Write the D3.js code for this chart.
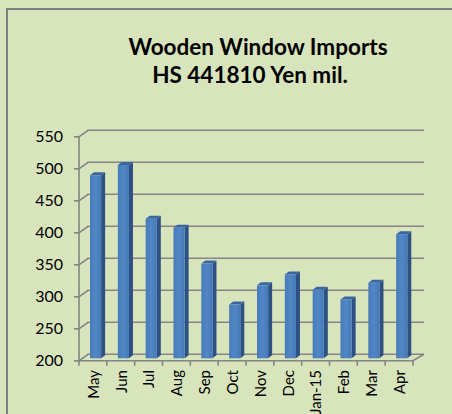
<!DOCTYPE html>
<html><head><meta charset="utf-8">
<script src="https://cdn.jsdelivr.net/npm/d3@7"></script>
<style>
html,body{margin:0;padding:0;background:#d8e4bc;overflow:hidden}
svg{display:block}
text{font-family:Lato,"Open Sans",sans-serif;fill:#000}
</style></head>
<body>
<script>
const months = ["May","Jun","Jul","Aug","Sep","Oct","Nov","Dec","Jan-15","Feb","Mar","Apr"];
const values = [486, 502, 418, 404, 348, 284, 314, 331, 307, 292, 318, 394];
const yTicks = [200, 250, 300, 350, 400, 450, 500, 550];
const titleLines = ["Wooden Window Imports", "HS 441810 Yen mil."];

const W = 452, H = 414;
const svg = d3.select("body").append("svg").attr("width", W).attr("height", H);

// frame
svg.append("rect").attr("x", 7).attr("y", 9).attr("width", 460).attr("height", 420)
  .attr("fill", "#d8e4bc").attr("stroke", "#7f7f7f").attr("stroke-width", 2);

// 3D geometry
const DX = 9, DY = -6.5;            // depth offset front->back
const x = d3.scaleBand().domain(months).range([79, 413]).paddingInner(0).paddingOuter(0);
const yB = d3.scaleLinear().domain([200, 550]).range([354.3, 130.3]); // back wall
const yF = v => yB(v) - DY;          // front plane

const grid = svg.append("g").attr("fill", "none").attr("stroke", "#858585").attr("stroke-width", 1.6);
yTicks.forEach(t => {
  grid.append("path").attr("d", `M79,${yF(t)}L${79+DX},${yB(t)}L424,${yB(t)}`);
  grid.append("line").attr("x1", 74).attr("x2", 79).attr("y1", yF(t)).attr("y2", yF(t));
});
// front vertical axis
grid.append("line").attr("x1", 79).attr("x2", 79).attr("y1", yF(550)).attr("y2", yF(200));
// floor front and right edge
grid.append("path").attr("d", `M79,${yF(200)}L413,${yF(200)}L424,${yB(200)}`);
// category ticks
months.concat(["_end"]).forEach((m, i) => {
  const xx = i < months.length ? x(m) : 413;
  grid.append("line").attr("x1", xx).attr("x2", xx).attr("y1", yF(200)).attr("y2", yF(200) + 5);
});

// y labels
svg.append("g").selectAll("text").data(yTicks).join("text")
  .attr("x", 63).attr("y", d => yF(d)).attr("dy", "0.35em")
  .attr("text-anchor", "end").attr("font-size", 16).text(d => d);

// bars
const bw = x.bandwidth();
const fw = bw * 0.4, sdx = 4, sdy = -3, baseShift = 2.5;
const defs = svg.append("defs");
const grad = defs.append("linearGradient").attr("id", "barg").attr("x1", 0).attr("x2", 1).attr("y1", 0).attr("y2", 0);
grad.append("stop").attr("offset", 0).attr("stop-color", "#477ab9");
grad.append("stop").attr("offset", 0.5).attr("stop-color", "#5187c6");
grad.append("stop").attr("offset", 1).attr("stop-color", "#4678b6");

const bars = svg.append("g");
months.forEach((m, i) => {
  const v = values[i];
  const x0 = x(m) + bw * 0.395;
  const yb = yF(200) - baseShift;
  const yt = yF(v) - baseShift;
  const x1 = x0 + fw;
  // side
  bars.append("path").attr("d", `M${x1},${yt}L${x1+sdx},${yt+sdy}L${x1+sdx},${yb+sdy}L${x1},${yb}Z`)
    .attr("fill", "#2d5185");
  // top
  bars.append("path").attr("d", `M${x0},${yt}L${x0+sdx},${yt+sdy}L${x1+sdx},${yt+sdy}L${x1},${yt}Z`)
    .attr("fill", "#3a66a0");
  // front
  bars.append("rect").attr("x", x0).attr("y", yt).attr("width", fw).attr("height", yb - yt)
    .attr("fill", "url(#barg)");
});

// x labels
svg.append("g").selectAll("text").data(months).join("text")
  .attr("transform", d => `translate(${x(d) + bw/2 + 0.5},370) rotate(-90)`)
  .attr("text-anchor", "end").attr("dy", "0.35em").attr("font-size", 15).text(d => d);

// title
svg.append("text").attr("x", 258).attr("y", 55).attr("text-anchor", "middle")
  .attr("font-weight", "bold").attr("font-size", 22.5).text(titleLines[0]);
svg.append("text").attr("x", 250).attr("y", 83).attr("text-anchor", "middle")
  .attr("font-weight", "bold").attr("font-size", 22.5).text(titleLines[1]);
</script>
</body></html>
